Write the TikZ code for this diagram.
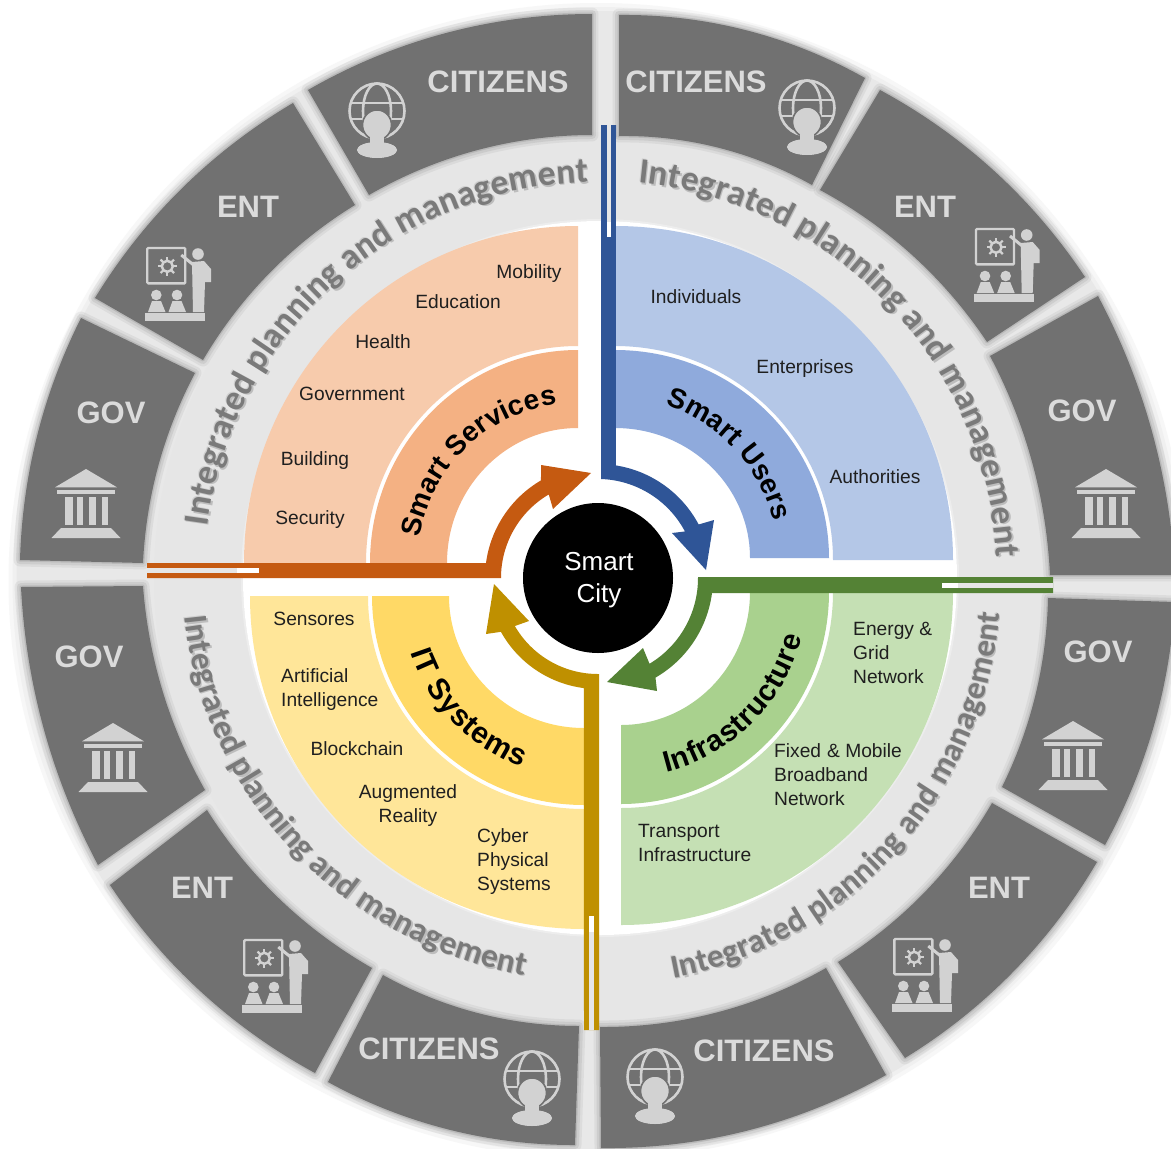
\documentclass[tikz,border=0pt]{standalone}
\usepackage{fontspec}
\setmainfont{Liberation Sans}
\newfontfamily\ringfamily{Carlito}
\usetikzlibrary{calc,decorations.text}
\definecolor{segc}{HTML}{717171}
\definecolor{iconc}{HTML}{D2D2D2}
\definecolor{ringc}{HTML}{E6E6E6}
\definecolor{ringt}{HTML}{7A7A7A}
\definecolor{ringsh}{HTML}{BDBDBD}
\definecolor{ringsl}{HTML}{CFCFCF}
\definecolor{peachA}{HTML}{F7CBAC}
\definecolor{peachB}{HTML}{F4B183}
\definecolor{blueA}{HTML}{B4C7E7}
\definecolor{blueB}{HTML}{8FAADC}
\definecolor{yellowA}{HTML}{FFE699}
\definecolor{yellowB}{HTML}{FFD966}
\definecolor{greenA}{HTML}{C5E0B4}
\definecolor{greenB}{HTML}{A9D18E}
\definecolor{arrO}{HTML}{C55A11}
\definecolor{arrB}{HTML}{2F5597}
\definecolor{arrG}{HTML}{BF9000}
\definecolor{arrN}{HTML}{548235}
\newcommand{\fs}[1]{\fontsize{#1bp}{#1bp}\selectfont}
\tikzset{
  item/.style={inner sep=0pt,text=black!88,font=\fontsize{19.2bp}{24bp}\selectfont,align=left},
  seglabel/.style={inner sep=0pt,text=iconc!80!white,font=\bfseries\fs{31}},
  icon/.style={fill=iconc,draw=none},
  iconline/.style={draw=iconc,line width=2.6pt,fill=none},
}
\newcommand{\seg}[5]{%
  \foreach \w/\o in {13/.10,8/.14,3/.22}{%
    \path[draw=black!55,opacity=\o,line width=\w pt,line join=round]
      (#1) to[bend left=#5,looseness=.87] (#2) -- (#3) to[bend right=#5,looseness=.87] (#4) -- cycle;}
  \fill[segc] (#1) to[bend left=#5,looseness=.87] (#2) -- (#3) to[bend right=#5,looseness=.87] (#4) -- cycle;}
\newcommand{\annul}[8]{% corner, outer rx, ry, inner rx, ry, start, end, colour
  \fill[#8] ($(#1)+(#6:#2 and #3)$) arc[start angle=#6,end angle=#7,x radius=#2,y radius=#3]
    -- ($(#1)+(#7:#4 and #5)$) arc[start angle=#7,end angle=#6,x radius=#4,y radius=#5] -- cycle;}
\newcommand{\bandtext}[6]{% corner, radius, start, end, text, size
  \path[decorate,decoration={text along path,text={|\bfseries\fs{#6}|#5},text align={fit to path}}]
    ($(#1)+(#3:#2)$) arc[start angle=#3,end angle=#4,radius=#2];}
\newcommand{\ringtext}[5]{% rx, ry, start, end, size: soft shadow, then the text
  \path[decorate,decoration={text along path,text={|\ringfamily\bfseries\fs{#5}\color{ringsl}|Integrated planning and management},text align={fit to path}}]
    ($(600-1,-578+1)+(#3:#1 and #2)$) arc[start angle=#3,end angle=#4,x radius=#1,y radius=#2];
  \path[decorate,decoration={text along path,text={|\ringfamily\bfseries\fs{#5}\color{ringsh}|Integrated planning and management},text align={fit to path}}]
    ($(600+1.5,-578-1.5)+(#3:#1 and #2)$) arc[start angle=#3,end angle=#4,x radius=#1,y radius=#2];
  \path[decorate,decoration={text along path,text={|\ringfamily\bfseries\fs{#5}\color{ringt}|Integrated planning and management},text align={fit to path}}]
    ($(600,-578)+(#3:#1 and #2)$) arc[start angle=#3,end angle=#4,x radius=#1,y radius=#2];}
\newcommand{\citizen}[1]{\begin{scope}[shift={(#1)}]
  \draw[iconline] (0,0) circle[radius=27.5];
  \draw[iconline] (0,0) ellipse[x radius=14,y radius=27.5];
  \draw[iconline] (-26,8) -- (26,8) (-26,-8) -- (26,-8);
  \fill[icon,draw=segc,line width=1.6pt] (0,-14) ellipse[x radius=14.5,y radius=15];
  \fill[icon,draw=segc,line width=1.6pt] (0,-39) ellipse[x radius=21,y radius=8.6];
  \fill[icon] (0,-14) ellipse[x radius=13,y radius=14];
  \fill[icon] (-7,-34) rectangle (7,-22);
  \fill[icon] (0,-39) ellipse[x radius=20,y radius=8];
\end{scope}}
\newcommand{\building}[1]{\begin{scope}[shift={(#1)}]
  \fill[icon] (0,34) -- (31,15.7) -- (-31,15.7) -- cycle;
  \fill[icon] (-29,12.7) rectangle (29,9.3);
  \foreach \a/\b in {-21/-13.3,-8.7/-2.7,3.3/10,15.7/21.7}{\fill[icon] (\a,6) rectangle (\b,-21.7);}
  \fill[icon] (-25,-25) -- (25,-25) -- (34.5,-35) -- (-34.5,-35) -- cycle;
\end{scope}}
\newcommand{\presenter}[1]{\begin{scope}[shift={(#1)}]
  \draw[iconc,line width=2.4pt,rounded corners=1pt] (-30.7,36) rectangle (7.3,0.7);
  \draw[iconc,line width=2.5pt] (-10.7,17.7) circle[radius=5.5];
  \foreach \t in {0,45,...,315}{\draw[iconc,line width=2.2pt] ($(-10.7,17.7)+(\t:6)$) -- ($(-10.7,17.7)+(\t:9.5)$);}
  \draw[iconc,line width=3pt] (18,17) -- (3.3,29);
  \fill[icon] (20,30) circle[radius=5.8];
  \fill[icon] (14,22) -- (26,23) -- (33,15) -- (33,2) -- (27,2) -- (26,-28) -- (15,-28) -- cycle;
  \fill[icon] (-21.7,-11) circle[radius=5.3];
  \fill[icon] (-1,-11) circle[radius=5.3];
  \fill[icon] (-30,-28) -- (-26,-17) -- (-17,-17) -- (-12.5,-28) -- cycle;
  \fill[icon] (-9.5,-28) -- (-5.5,-17) -- (3.5,-17) -- (8,-28) -- cycle;
  \fill[icon] (-32.7,-29.3) rectangle (27.3,-37.3);
\end{scope}}
\begin{document}
\begin{tikzpicture}[x=1bp,y=1bp]
\useasboundingbox (0,0) rectangle (1171,-1149);
\clip (0,0) rectangle (1171,-1149);
\coordinate (C) at (598,-578);
\coordinate (R) at (600,-578);
\coordinate (E) at (597.5,-581);
% backing disc with soft edge
\fill[white] (0,0) rectangle (1171,-1149);
\fill[black!3] (E) ellipse[x radius=589,y radius=578];
\fill[black!6] (E) ellipse[x radius=585,y radius=574];
\fill[black!9] (E) ellipse[x radius=581,y radius=570];
\fill[ringc] (R) circle[radius=446];
% gray segments
\seg{308,-90}{592,-14}{592,-135}{369,-195}{15}
\seg{95,-298}{293,-103}{355,-205}{203,-360}{14}
\seg{20,-560}{81,-318}{195,-373}{143,-563}{12.5}
\seg{619,-15}{865,-78}{812,-185}{619,-136}{15}
\seg{880,-90}{1085,-277}{987,-342}{820,-190}{14}
\seg{1098,-296}{1175,-575}{1050,-575}{990,-356}{12.5}
\seg{1175,-602}{1105,-845}{1002,-787}{1048,-598}{12.5}
\seg{1097,-862}{905,-1058}{838,-962}{992,-803}{14}
\seg{886,-1075}{601,-1148}{600,-1027}{826,-968}{15}
\seg{575,-1145}{328,-1082}{383,-975}{579,-1026}{14.5}
\seg{315,-1073}{110,-885}{207,-810}{372,-968}{14}
\seg{98,-865}{21,-587}{143,-586}{205,-790}{12.5}
% central white disc
\draw[black!7,line width=2pt] (R) circle[radius=358];
\fill[white] (R) circle[radius=357];
% quadrants
\annul{578,-563}{334}{337}{212}{217}{180}{90}{peachA}
\annul{615,-560}{338}{334}{218}{214}{90}{0}{blueA}
\annul{584,-596}{334}{333}{216}{213}{270}{180}{yellowA}
\annul{621,-592}{332}{333}{212}{216}{0}{-90}{greenA}
\annul{578,-563}{208}{213}{131}{135}{180}{90}{peachB}
\annul{615,-558}{214}{208}{135}{130}{90}{0}{blueB}
\annul{584,-596}{212}{209}{135}{132}{270}{180}{yellowB}
\annul{621,-592}{208}{212}{129}{133}{0}{-90}{greenB}
% ring texts
\ringtext{396}{396}{172.5}{92}{35.5}
\ringtext{397}{397}{84.5}{3}{35.5}
\ringtext{417}{404}{185.5}{259.5}{33.5}
\ringtext{401}{407}{-79.5}{-5}{33}
% arrows
\fill[arrB] (601,-125) -- (601,-479) arc[start angle=88,end angle=28,radius=99]
  -- (672,-533) -- (706,-570) -- (714,-520) -- ($(C)+(28:114)$) arc[start angle=28,end angle=81,radius=114]
  -- (616,-125) -- cycle;
\fill[arrN] (1053,-577) -- (698,-577) arc[start angle=0.6,end angle=-59,radius=100]
  -- (643,-648) -- (607,-682) -- (657,-691) -- ($(C)+(-60:115)$) arc[start angle=-60,end angle=-7.5,radius=115]
  -- (1053,-593) -- cycle;
\fill[arrG] (599,-1030) -- (599,-674) arc[start angle=-89.4,end angle=-150,radius=96]
  -- (529,-621) -- (494,-584) -- (486,-634) -- ($(C)+(-151:111)$) arc[start angle=-151,end angle=-97.3,radius=111]
  -- (584,-1030) -- cycle;
\fill[arrO] (147,-563) -- (486,-563) arc[start angle=172.4,end angle=120.3,radius=113]
  -- (541,-465) -- (591,-473) -- (553,-509) -- ($(C)+(120.5:97)$) arc[start angle=120.5,end angle=180,radius=97]
  -- (147,-578) -- cycle;
% inner strips of the double bars
\fill[ringc] (606.5,-125) rectangle (611,-222);
\fill[white] (606.5,-222) rectangle (611,-237);
\fill[ringc] (147,-568) rectangle (237,-573);
\fill[white] (237,-568) rectangle (259,-573);
\fill[ringc] (958,-583) rectangle (1053,-588);
\fill[white] (942,-583) rectangle (958,-588);
\fill[ringc] (589,-932) rectangle (594,-1030);
\fill[white] (589,-916) rectangle (594,-932);
% hub
\fill[black] (C) circle[radius=75];
\node[inner sep=0pt,text=white,font=\fontsize{26bp}{32bp}\selectfont,align=center] (hub) at (599,-580) {Smart\\City};
% band texts
\bandtext{578,-563}{160}{171}{97.5}{Smart Services}{28}
\bandtext{615,-560}{163}{72}{13.5}{Smart Users}{28}
\bandtext{584,-596}{182}{198}{250}{IT Systems}{30}
\bandtext{621,-592}{186}{-76}{-14}{Infrastructure}{29.5}
% items
\node[item] (i1) at (529,-274) {Mobility};
\node[item] (i2) at (458,-302) {Education};
\node[item] (i3) at (383,-342) {Health};
\node[item] (i4) at (352,-393.5) {Government};
\node[item] (i5) at (315,-460.5) {Building};
\node[item] (i6) at (310,-519.5) {Security};
\node[item] (i7) at (696,-296.5) {Individuals};
\node[item] (i8) at (805,-369) {Enterprises};
\node[item] (i9) at (875,-477) {Authorities};
\node[item] (i10) at (314,-619) {Sensores};
\node[item,anchor=west] (i11) at (281,-690) {Artificial\\Intelligence};
\node[item] (i12) at (357,-749) {Blockchain};
\node[item,align=center] (i13) at (408,-806) {Augmented\\Reality};
\node[item,anchor=west] (i14) at (477,-862) {Cyber\\Physical\\Systems};
\node[item,anchor=west] (i15) at (853,-653) {Energy \&\\Grid\\Network};
\node[item,anchor=west] (i16) at (774,-775) {Fixed\hspace{6bp}\& Mobile\\Broadband\\Network};
\node[item,anchor=west] (i17) at (638,-843) {Transport\\Infrastructure};
% segment labels
\node[seglabel] (l1) at (498,-82) {CITIZENS};
\node[seglabel] (l2) at (248,-207) {ENT};
\node[seglabel] (l3) at (111,-413) {GOV};
\node[seglabel] (l4) at (696,-82) {CITIZENS};
\node[seglabel] (l5) at (925,-207) {ENT};
\node[seglabel] (l6) at (1082,-411) {GOV};
\node[seglabel] (l7) at (1098,-652) {GOV};
\node[seglabel] (l8) at (999,-888) {ENT};
\node[seglabel] (l9) at (764,-1051) {CITIZENS};
\node[seglabel] (l10) at (89,-657) {GOV};
\node[seglabel] (l11) at (202,-888) {ENT};
\node[seglabel] (l12) at (429,-1049) {CITIZENS};
% icons
\citizen{377,-111}
\citizen{807,-108}
\citizen{655,-1077}
\citizen{532,-1079}
\building{86,-503}
\building{1106,-503}
\building{1073,-755}
\building{113,-757}
\presenter{178,-284}
\presenter{1006.7,-265}
\presenter{925,-975}
\presenter{275,-976}
\end{tikzpicture}
\end{document}
